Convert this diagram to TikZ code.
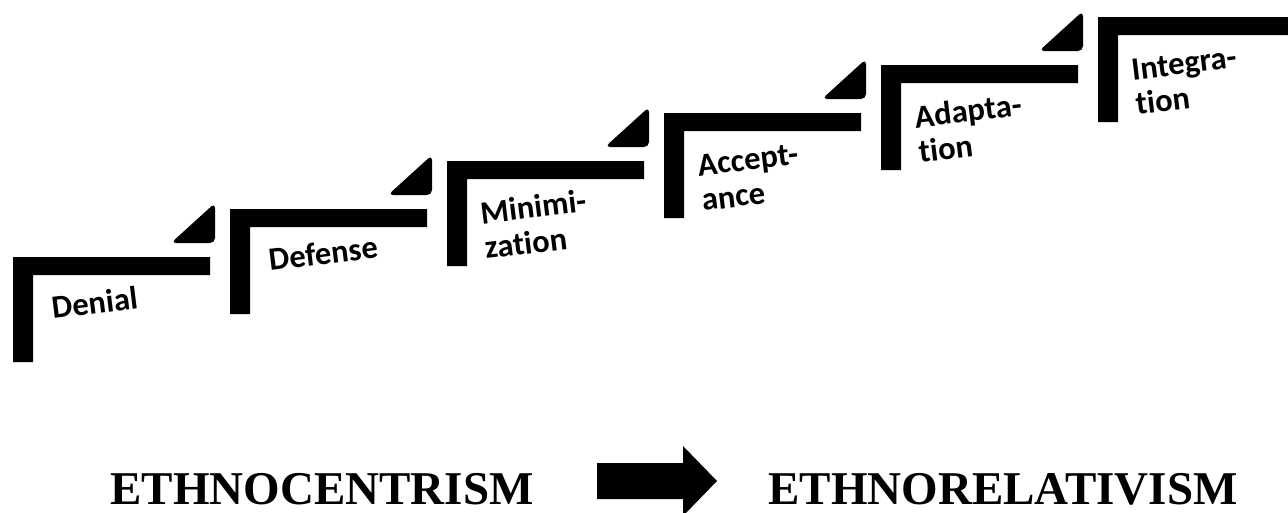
\documentclass[tikz,border=0pt]{standalone}
\usepackage{fontspec}
\setmainfont{Liberation Serif}
\newfontfamily\stepfont[Ligatures=NoCommon]{Carlito}

\tikzstyle{stepbar}=[fill=black]
\tikzstyle{corner}=[fill=black, rounded corners=5pt]
\tikzstyle{steplabel}=[anchor=base west, rotate=7, inner sep=0pt, align=left, font=\stepfont\bfseries\fontsize{32.5}{35}\selectfont]
\tikzstyle{stage}=[anchor=base, inner sep=0pt, font=\bfseries\fontsize{47}{50}\selectfont]

\begin{document}
\begin{tikzpicture}[x=1pt, y=-1pt]
            \useasboundingbox (0,0) rectangle (1288,512);
            % the six steps
            \fill[stepbar] (13,362) -- (13,257) -- (210,257) -- (210,275) -- (33,275) -- (33,362) -- cycle;
            \fill[stepbar] (230,314) -- (230,209) -- (427,209) -- (427,227) -- (250,227) -- (250,314) -- cycle;
            \fill[stepbar] (447,266) -- (447,161) -- (644,161) -- (644,179) -- (467,179) -- (467,266) -- cycle;
            \fill[stepbar] (664,218) -- (664,113) -- (861,113) -- (861,131) -- (684,131) -- (684,218) -- cycle;
            \fill[stepbar] (881,170) -- (881,65) -- (1078,65) -- (1078,83) -- (901,83) -- (901,170) -- cycle;
            \fill[stepbar] (1098,122) -- (1098,17) -- (1288,17) -- (1288,35) -- (1118,35) -- (1118,122) -- cycle;
            % corners
            \fill[corner] (171,243) -- (215,203) -- (215,243) -- cycle;
            \fill[corner] (388,195) -- (432,155) -- (432,195) -- cycle;
            \fill[corner] (605,147) -- (649,107) -- (649,147) -- cycle;
            \fill[corner] (822,99) -- (866,59) -- (866,99) -- cycle;
            \fill[corner] (1039,51) -- (1083,11) -- (1083,51) -- cycle;
            % labels (two-line ones sit on their last line)
            \node[steplabel] at (53,319) (denial) {Denial};
            \node[steplabel] at (270,271) (defense) {Defense};
            \node[steplabel] at (486,259) (minimization) {Minimi-\\zation};
            \node[steplabel] at (703,211) (acceptance) {Accept-\\ance};
            \node[steplabel] at (920,163) (adaptation) {Adapta-\\tion};
            \node[steplabel] at (1137,115) (integration) {Integra-\\tion};
            % bottom line
            \node[stage] at (322,504) (ethnocentrism) {ETHNOCENTRISM};
            \node[stage] at (1003,504) (ethnorelativism) {ETHNORELATIVISM};
            \fill (597,463) -- (683,463) -- (683,446) -- (717,481) -- (683,516) -- (683,499) -- (597,499) -- cycle;
        \end{tikzpicture}
\end{document}
